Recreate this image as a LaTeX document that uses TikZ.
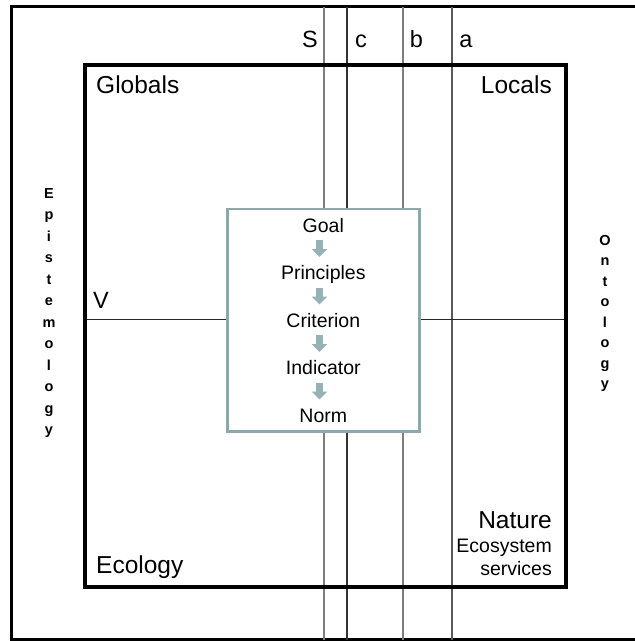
\documentclass[tikz,border=0pt]{standalone}
\usepackage{fontspec}
\setmainfont{Liberation Sans}
\usetikzlibrary{arrows.meta, positioning}
\definecolor{framegray}{RGB}{140,168,170}
\definecolor{arrowgray}{RGB}{150,178,180}
\definecolor{linegray}{RGB}{125,125,125}

\begin{document}
\begin{tikzpicture}[
    x=1pt, y=-1pt,
    corner/.style={font=\fontsize{24.5}{28}\selectfont, inner sep=0pt},
    colhead/.style={font=\fontsize{23.5}{27}\selectfont, inner sep=0pt, anchor=base},
    stage/.style={font=\fontsize{19.5}{23}\selectfont, inner sep=0pt, anchor=base},
    flow/.style={line width=7.5pt, arrowgray, -{Triangle[length=8pt, width=15pt]}},
    axis/.style={font=\bfseries\fontsize{14.5}{21.5}\selectfont, align=center, inner sep=0pt, anchor=north},
    divider/.style={line width=1.3pt},
]
    \clip (0,0) rectangle (635,641);
    \node[draw, line width=3pt, minimum width=625.5pt, minimum height=632.8pt, inner sep=0pt] (outer) at (324.25,323.1) {};

    % scale columns
    \foreach \x/\c in {324/linegray, 347/black!80, 403/linegray, 452/black!65}
        \draw[divider, \c] (\x,6.7) -- (\x,639.5);
    \draw[line width=1.2pt, black!85] (85,319.5) -- (566,319.5);

    \node[draw, line width=4pt, minimum width=481pt, minimum height=522pt, inner sep=0pt] (inner) at (325.5,326) {};
    \node[draw=framegray, fill=white, line width=2.5pt, minimum width=192pt, minimum height=222.7pt, inner sep=0pt] (frame) at (323.3,320.35) {};

    % hierarchy
    \node[stage] (goal)  at (323.3,232)   {Goal};
    \node[stage] (princ) at (323.3,279.5) {Principles};
    \node[stage] (crit)  at (323.3,327)   {Criterion};
    \node[stage] (ind)   at (323.3,374.5) {Indicator};
    \node[stage] (norm)  at (323.3,422)   {Norm};
    \foreach \a/\b in {goal/princ, princ/crit, crit/ind, ind/norm}
        \draw[flow] ([xshift=-3.8pt, yshift=-8pt]\a.base) -- ([xshift=-3.8pt, yshift=22.5pt]\b.base);

    \node[colhead] (cs) at (310,47)   {S};
    \node[colhead] (cc) at (361,47)   {c};
    \node[colhead] (cb) at (416.5,47) {b};
    \node[colhead] (ca) at (466,47)   {a};

    \node[corner, anchor=base west] (glob) at (96,93.3) {Globals};
    \node[corner, anchor=base east] (loc)  at (552,93)  {Locals};
    \node[corner, anchor=base west] (eco)  at (96,573)  {Ecology};
    \node[corner, anchor=base east] (nat)  at (552,528) {Nature};
    \node[anchor=north east, align=right, font=\fontsize{19.5}{23.5}\selectfont, inner sep=0pt] (ess) at (552,538.5) {Ecosystem\\services};
    \node[colhead, anchor=base west] (v) at (93,308) {V};

    \node[axis] (epi) at (49,188) {E\\p\\i\\s\\t\\e\\m\\o\\l\\o\\g\\y};
    \node[axis, font=\bfseries\fontsize{14.5}{20.5}\selectfont] (ont) at (605,235) {O\\n\\t\\o\\l\\o\\g\\y};
\end{tikzpicture}
\end{document}
